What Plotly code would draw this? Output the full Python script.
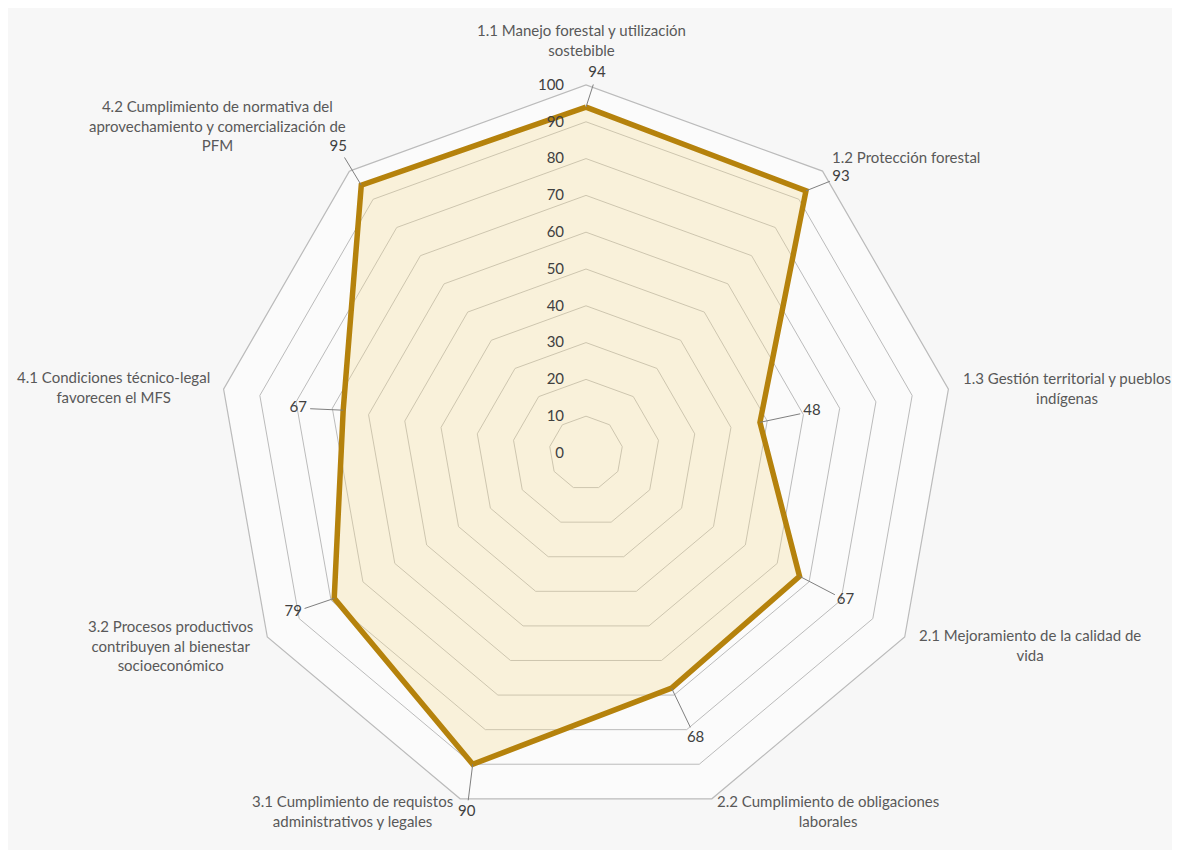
import numpy as np
import plotly.graph_objects as go

# data
categories = [
    "1.1 Manejo forestal y utilización<br>sostebible",
    "1.2 Protección forestal",
    "1.3 Gestión territorial y pueblos<br>indígenas",
    "2.1 Mejoramiento de la calidad de<br>vida",
    "2.2 Cumplimiento de obligaciones<br>laborales",
    "3.1 Cumplimiento de requistos<br>administrativos y legales",
    "3.2 Procesos productivos<br>contribuyen al bienestar<br>socioeconómico",
    "4.1 Condiciones técnico-legal<br>favorecen el MFS",
    "4.2 Cumplimiento de normativa del<br>aprovechamiento y comercialización de<br>PFM",
]
values = [94, 93, 48, 67, 68, 90, 79, 67, 95]
radial_ticks = [0, 10, 20, 30, 40, 50, 60, 70, 80, 90, 100]

# layout / style
W, H = 1180, 850
CX, CY = 578, 445          # centre of the radar, figure pixels
PX = 368 / 100.0           # pixels per radial unit
n = len(categories)
angles = [360.0 * i / n for i in range(n)]
FONT = "Lato"

# category label centres (r, theta)
cat_r = [112.2, 118.5, 132, 131.5, 117.5, 116, 124.5, 129.5, 134]
cat_t = [-0.6, 47.2, 82.3, 113.4, 145.9, 213.1, 245.2, 277.9, 311.6]
# value label offsets from the vertex, in pixels (dx right, dy down)
lab_off = [(11, -34), (35, -14), (52, -11), (46, 24), (24, 50),
           (-6, 48), (-41, 14), (-45, -2), (-23, -38)]


def shifted(v, ang, dx, dy):
    a = np.radians(ang)
    x = v * np.sin(a) + dx / PX
    y = v * np.cos(a) - dy / PX
    return float(np.hypot(x, y)), float(np.degrees(np.arctan2(x, y)) % 360)


fig = go.Figure()

fig.add_trace(go.Scatterpolar(
    r=values + values[:1], theta=categories + categories[:1],
    mode="lines", fill="toself",
    fillcolor="rgba(245,222,150,0.32)",
    line=dict(color="#B5820C", width=5.5),
    hoverinfo="skip", subplot="polar",
))

# leader lines and value labels
lab_r, lab_t = [], []
for v, ang, (dx, dy) in zip(values, angles, lab_off):
    r1, t1 = shifted(v, ang, dx, dy)
    lab_r.append(r1)
    lab_t.append(t1)
    L = np.hypot(dx, dy)
    k = (L - 12) / L
    r0, t0 = shifted(v, ang, 0, 0)
    r2, t2 = shifted(v, ang, dx * k, dy * k)
    fig.add_trace(go.Scatterpolar(
        r=[r0, r2], theta=[t0, t2], mode="lines",
        line=dict(color="#7F7F7F", width=1),
        hoverinfo="skip", subplot="polar2", cliponaxis=False,
    ))

fig.add_trace(go.Scatterpolar(
    r=lab_r, theta=lab_t, mode="text", text=[str(v) for v in values],
    textposition="middle center",
    textfont=dict(family=FONT, size=15, color="#404040"),
    hoverinfo="skip", subplot="polar2", cliponaxis=False,
))

# category labels
for name, r, t in zip(categories, cat_r, cat_t):
    a = np.radians(t)
    px = CX + r * PX * np.sin(a)
    py = CY - r * PX * np.cos(a)
    fig.add_annotation(
        x=px / W, y=1 - py / H, xref="paper", yref="paper",
        text=name, showarrow=False, xanchor="center", yanchor="middle",
        align="center", font=dict(family=FONT, size=15, color="#595959"),
    )

R1 = 368
R2 = 405
fig.update_layout(
    width=W, height=H,
    margin=dict(l=0, r=0, t=0, b=0),
    paper_bgcolor="#F7F7F7",
    showlegend=False,
    polar=dict(
        domain=dict(x=[(CX - R1) / W, (CX + R1) / W],
                    y=[1 - (CY + R1) / H, 1 - (CY - R1) / H]),
        bgcolor="#FBFBFB",
        gridshape="linear",
        radialaxis=dict(
            range=[0, 100], tickvals=radial_ticks,
            ticktext=[str(t) + "\u00a0" * 5 for t in radial_ticks],
            angle=90, tickangle=90,
            side="counterclockwise", showline=False, ticks="",
            gridcolor="#BBBBBB", gridwidth=1.2,
            tickfont=dict(family=FONT, size=15, color="#404040"),
        ),
        angularaxis=dict(
            rotation=90, direction="clockwise", showgrid=False,
            showticklabels=False, ticks="",
            showline=True, linecolor="#BBBBBB", linewidth=1.2,
        ),
    ),
    polar2=dict(
        domain=dict(x=[(CX - R2) / W, (CX + R2) / W],
                    y=[max(0, 1 - (CY + R2) / H), 1 - (CY - R2) / H]),
        bgcolor="rgba(0,0,0,0)",
        radialaxis=dict(range=[0, R2 / PX], visible=False),
        angularaxis=dict(rotation=90, direction="clockwise", visible=False),
    ),
)

fig.write_html("out.html")
